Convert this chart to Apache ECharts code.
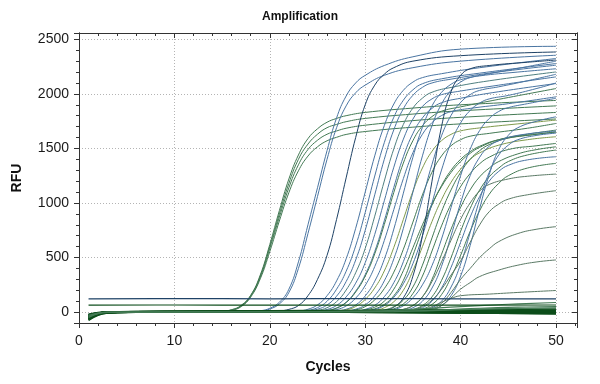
<!DOCTYPE html>
<html><head><meta charset="utf-8">
<script src="https://cdn.jsdelivr.net/npm/echarts@6/dist/echarts.min.js"></script>
<style>html,body{margin:0;padding:0;background:#fff}#c{width:600px;height:384px}</style>
</head><body><div id="c"></div>
<script>
// ---- Data: RFU, as [cycle, RFU] pairs ----
const xTicks = [0, 10, 20, 30, 40, 50];
const yTicks = [0, 500, 1000, 1500, 2000, 2500];

const earlyCurves = [
  [[1,-50],[2,-15],[3,-3],[10,2],[14,4],[15,8],[16,22],[17,62],[18,155],[19,340],[20,620],[21,930],[22,1220],[23,1440],[24,1590],[25,1680],[26,1740],[27,1775],[28,1800],[30,1830],[35,1870],[40,1900],[50,1940]],
  [[1,-40],[2,-12],[3,-2],[10,3],[14,5],[15,8],[16,20],[17,57],[18,150],[19,330],[20,600],[21,900],[22,1180],[23,1400],[24,1540],[25,1630],[26,1690],[27,1720],[28,1745],[30,1775],[35,1815],[40,1845],[50,1890]],
  [[1,-55],[2,-18],[3,-4],[10,1],[14,3],[15,6],[16,18],[17,55],[18,145],[19,320],[20,585],[21,870],[22,1140],[23,1350],[24,1490],[25,1575],[26,1630],[27,1660],[28,1685],[30,1713],[35,1755],[40,1785],[50,1830]],
  [[1,-35],[2,-10],[3,-2],[10,2],[14,3],[15,5],[16,16],[17,50],[18,138],[19,305],[20,555],[21,835],[22,1095],[23,1295],[24,1430],[25,1515],[26,1570],[27,1602],[28,1628],[30,1655],[35,1695],[40,1725],[50,1770]],
  [[1,-45],[2,-14],[3,-3],[12,2],[17,4],[18,6],[19,12],[20,35],[21,90],[22,210],[23,460],[24,800],[25,1140],[26,1480],[27,1780],[28,1980],[29,2100],[30,2170],[32,2260],[35,2340],[40,2410],[50,2436]],
  [[1,-30],[2,-9],[3,-1],[12,3],[17,4],[18,6],[19,9],[20,28],[21,75],[22,180],[23,400],[24,720],[25,1060],[26,1400],[27,1690],[28,1890],[29,2010],[30,2080],[32,2170],[35,2240],[40,2300],[50,2354]],
  [[1,-40],[2,-12],[3,-2],[15,3],[20,5],[21,10],[22,25],[23,60],[24,150],[25,300],[26,520],[27,850],[28,1230],[29,1600],[30,1900],[31,2080],[32,2180],[33,2240],[35,2300],[40,2350],[50,2384]]
];
const earlyDye = ['HEX','HEX','HEX','HEX','FAM','FAM','CY5'];

const midCurves = [
  [[1,-50],[2,-15],[3,-3],[15,2],[22,4],[23,9],[24,26],[25,66],[26,150],[27,286],[28,488],[29,768],[30,1100],[31,1432],[32,1709],[33,1907],[34,2033],[35,2108],[36,2149],[38,2185],[42,2240],[50,2324]],
  [[1,-25],[2,-8],[3,-1],[15,3],[23,5],[24,15],[25,41],[26,99],[27,210],[28,374],[29,607],[30,913],[31,1247],[32,1553],[33,1786],[34,1942],[35,2037],[36,2093],[38,2138],[42,2190],[50,2278]],
  [[1,-60],[2,-20],[3,-5],[15,1],[23,3],[24,9],[25,26],[26,65],[27,146],[28,280],[29,477],[30,750],[31,1075],[32,1400],[33,1671],[34,1864],[35,1987],[36,2060],[37,2100],[39,2135],[43,2190],[50,2263]],
  [[1,-35],[2,-10],[3,-2],[15,2],[24,4],[25,15],[26,40],[27,96],[28,202],[29,360],[30,584],[31,879],[32,1201],[33,1496],[34,1720],[35,1870],[36,1961],[37,2015],[39,2059],[43,2120],[50,2201]],
  [[1,-45],[2,-13],[3,-3],[15,2],[24,3],[25,8],[26,24],[27,61],[28,139],[29,265],[30,453],[31,712],[32,1020],[33,1328],[34,1585],[35,1769],[36,1885],[37,1954],[38,1993],[40,2026],[44,2080],[50,2156]],
  [[1,-30],[2,-9],[3,-2],[15,3],[25,5],[26,14],[27,38],[28,91],[29,192],[30,343],[31,556],[32,837],[33,1143],[34,1424],[35,1637],[36,1780],[37,1867],[38,1919],[40,1960],[44,2020],[50,2095]],
  [[1,-55],[2,-17],[3,-4],[15,1],[25,4],[26,13],[27,36],[28,87],[29,184],[30,329],[31,534],[32,803],[33,1097],[34,1366],[35,1571],[36,1708],[37,1792],[38,1841],[40,1881],[44,1950],[50,2049]],
  [[1,-40],[2,-12],[3,-2],[15,2],[26,8],[27,23],[28,56],[29,128],[30,244],[31,417],[32,656],[33,940],[34,1224],[35,1461],[36,1630],[37,1737],[38,1801],[39,1837],[41,1867],[45,1910],[50,1973]],
  [[1,-20],[2,-6],[3,0],[15,3],[26,4],[27,9],[28,26],[29,65],[30,148],[31,283],[32,484],[33,761],[34,1090],[35,1419],[36,1694],[37,1890],[38,2014],[39,2088],[40,2130],[42,2165],[46,2200],[50,2230]],
  [[1,-45],[2,-14],[3,-3],[15,2],[26,4],[27,7],[28,20],[29,51],[30,116],[31,221],[32,377],[33,593],[34,850],[35,1107],[36,1321],[37,1474],[38,1571],[39,1629],[40,1661],[42,1688],[46,1725],[50,1760]]
];
const midDye = ['FAM','FAM','FAM','VIC','FAM','FAM','HEX','FAM','FAM','TXR'];

const lateCurves = [
  [[1,-35],[2,-10],[3,-2],[15,2],[27,4],[28,9],[29,26],[30,66],[31,150],[32,286],[33,488],[34,768],[35,1100],[36,1432],[37,1709],[38,1907],[39,2033],[40,2108],[41,2149],[43,2185],[47,2250],[50,2300]],
  [[1,-50],[2,-15],[3,-3],[15,1],[27,3],[28,7],[29,20],[30,50],[31,112],[32,215],[33,366],[34,576],[35,825],[36,1074],[37,1282],[38,1431],[39,1525],[40,1580],[41,1612],[43,1638],[47,1685],[50,1729]],
  [[1,-40],[2,-12],[3,-2],[15,2],[28,4],[29,8],[30,25],[31,62],[32,141],[33,270],[34,462],[35,726],[36,1040],[37,1354],[38,1616],[39,1803],[40,1922],[41,1993],[42,2032],[44,2065],[47,2120],[50,2180]],
  [[1,-60],[2,-18],[3,-4],[15,1],[28,5],[29,10],[30,20],[31,45],[32,100],[33,210],[34,380],[35,590],[36,800],[37,990],[38,1150],[39,1280],[40,1380],[41,1455],[42,1510],[44,1580],[47,1630],[50,1668]],
  [[1,-30],[2,-9],[3,-1],[15,2],[29,5],[30,12],[31,30],[32,70],[33,150],[34,290],[35,520],[36,760],[37,980],[38,1160],[39,1300],[40,1400],[41,1470],[42,1520],[44,1580],[47,1620],[50,1652]],
  [[1,-45],[2,-13],[3,-3],[15,2],[29,4],[30,8],[31,24],[32,60],[33,136],[34,260],[35,444],[36,698],[37,1000],[38,1302],[39,1554],[40,1734],[41,1848],[42,1916],[43,1954],[45,1986],[48,2050],[50,2100]],
  [[1,-25],[2,-7],[3,-1],[15,3],[30,5],[31,15],[32,40],[33,95],[34,200],[35,380],[36,600],[37,830],[38,1030],[39,1190],[40,1310],[41,1400],[42,1460],[44,1530],[47,1580],[50,1607]],
  [[1,-50],[2,-15],[3,-3],[15,1],[31,5],[32,15],[33,45],[34,130],[35,330],[36,700],[37,1200],[38,1700],[39,2020],[40,2170],[41,2230],[43,2260],[47,2290],[50,2310]],
  [[1,-40],[2,-12],[3,-2],[15,1],[30,6],[31,10],[32,20],[33,50],[34,110],[35,230],[36,430],[37,680],[38,920],[39,1120],[40,1280],[41,1400],[42,1480],[43,1535],[45,1595],[48,1630],[50,1650]],
  [[1,-55],[2,-16],[3,-3],[15,2],[31,5],[32,12],[33,30],[34,75],[35,170],[36,330],[37,560],[38,790],[39,990],[40,1150],[41,1270],[42,1360],[43,1420],[45,1490],[48,1525],[50,1546]],
  [[1,-35],[2,-10],[3,-2],[15,2],[31,4],[32,8],[33,23],[34,58],[35,131],[36,250],[37,426],[38,670],[39,960],[40,1250],[41,1492],[42,1665],[43,1774],[44,1839],[45,1874],[47,1910],[50,1960]]
];
const lateDye = ['FAM','HEX','FAM','HEX','HEX','FAM','TXR','CY5','HEX','HEX','FAM'];

const lastCurves = [
  [[1,-45],[2,-13],[3,-2],[15,1],[32,5],[33,10],[34,25],[35,60],[36,140],[37,300],[38,530],[39,760],[40,960],[41,1120],[42,1240],[43,1320],[44,1380],[46,1450],[48,1490],[50,1515]],
  [[1,-30],[2,-9],[3,-1],[15,2],[32,3],[33,5],[34,15],[35,40],[36,100],[37,220],[38,420],[39,700],[40,1000],[41,1250],[42,1420],[43,1520],[44,1570],[46,1620],[50,1660]],
  [[1,-50],[2,-15],[3,-3],[15,1],[33,5],[34,10],[35,25],[36,60],[37,140],[38,290],[39,500],[40,740],[41,950],[42,1120],[43,1240],[44,1320],[45,1380],[47,1440],[50,1485]],
  [[1,-40],[2,-12],[3,-2],[15,2],[33,3],[34,5],[35,15],[36,40],[37,100],[38,220],[39,410],[40,640],[41,870],[42,1060],[43,1200],[44,1290],[45,1345],[47,1395],[50,1424]],
  [[1,-35],[2,-10],[3,-2],[15,2],[34,5],[35,10],[36,28],[37,70],[38,160],[39,320],[40,520],[41,740],[42,930],[43,1080],[44,1180],[45,1250],[47,1320],[50,1363]],
  [[1,-55],[2,-16],[3,-3],[15,1],[32,5],[33,10],[34,25],[35,60],[36,140],[37,280],[38,460],[39,660],[40,850],[41,1000],[42,1110],[43,1170],[45,1220],[47,1245],[50,1265]],
  [[1,-25],[2,-7],[3,-1],[15,2],[34,3],[35,5],[36,15],[37,40],[38,100],[39,230],[40,440],[41,730],[42,1030],[43,1280],[44,1440],[45,1530],[46,1580],[48,1620],[50,1640]],
  [[1,-45],[2,-13],[3,-2],[15,2],[35,4],[36,8],[37,22],[38,60],[39,150],[40,330],[41,610],[42,950],[43,1260],[44,1490],[45,1620],[46,1690],[48,1750],[50,1790]],
  [[1,-40],[2,-12],[3,-2],[15,1],[33,4],[34,8],[35,20],[36,50],[37,110],[38,210],[39,340],[40,470],[41,640],[42,800],[43,920],[44,990],[45,1035],[47,1075],[50,1113]],
  [[1,-30],[2,-9],[3,-1],[15,1],[35,4],[36,10],[37,30],[38,80],[39,180],[40,300],[41,400],[42,500],[43,580],[44,646],[46,720],[48,760],[50,783]],
  [[1,-45],[2,-14],[3,-3],[15,1],[35,3],[36,5],[37,20],[38,60],[39,130],[40,210],[41,270],[42,326],[44,385],[46,430],[48,460],[50,478]],
  [[1,-35],[2,-10],[3,-2],[15,2],[34,4],[35,5],[36,20],[37,50],[38,90],[39,125],[40,150],[43,165],[46,180],[50,198]]
];
const lastDye = ['HEX','FAM','HEX','FAM','HEX','ROX','FAM','FAM','ROX','ROX','ROX','ROX'];

const lowCurves = [
  [[1,-40],[2,-12],[3,-2],[20,3],[30,8],[35,25],[40,50],[45,72],[50,88]],
  [[1,-30],[2,-9],[3,-1],[20,2],[33,5],[38,20],[42,35],[46,45],[50,51]],
  [[1,-50],[2,-15],[3,-3],[25,4],[35,10],[40,22],[45,32],[50,38]],
  [[1,122],[10,123],[20,122],[30,123],[40,122],[50,122]],
  [[1,64],[10,65],[20,64],[30,65],[40,64],[50,65]]
];
const lowDye = ['HEX','HEX','HEX','CY5','NTC'];

const flatCurves = [
  [[1,-70],[2,-25],[3,-8],[6,0],[12,4],[20,6],[28,3],[35,0],[42,-4],[50,-8]],
  [[1,-60],[2,-20],[3,-5],[6,2],[12,5],[20,8],[28,6],[35,4],[42,2],[50,0]],
  [[1,-50],[2,-15],[3,-3],[6,3],[12,6],[20,5],[28,2],[35,-2],[42,-6],[50,-12]],
  [[1,-40],[2,-12],[3,-2],[6,2],[12,3],[20,4],[28,4],[35,6],[42,8],[50,10]],
  [[1,-30],[2,-8],[3,0],[6,4],[12,7],[20,10],[28,12],[35,14],[42,16],[50,18]],
  [[1,-65],[2,-22],[3,-6],[6,-1],[12,2],[20,3],[28,0],[35,-3],[42,-8],[50,-14]],
  [[1,-20],[2,-5],[3,1],[6,3],[12,4],[20,2],[28,1],[35,3],[42,5],[50,6]],
  [[1,-55],[2,-18],[3,-4],[6,1],[12,5],[20,9],[28,10],[35,8],[42,4],[50,2]],
  [[1,-45],[2,-14],[3,-3],[6,0],[12,1],[20,0],[28,-2],[35,-4],[42,-6],[50,-9]],
  [[1,-35],[2,-10],[3,-1],[6,5],[12,8],[20,12],[28,15],[35,20],[42,24],[50,28]],
  [[1,-75],[2,-28],[3,-9],[6,-2],[12,1],[20,2],[28,1],[35,-1],[42,-3],[50,-5]],
  [[1,-25],[2,-7],[3,0],[6,2],[12,3],[20,5],[28,7],[35,9],[42,11],[50,12]],
  [[1,-50],[2,-16],[3,-4],[6,1],[12,3],[20,2],[28,-1],[35,-5],[42,-10],[50,-15]],
  [[1,-40],[2,-12],[3,-2],[6,3],[12,5],[20,6],[28,5],[35,5],[42,4],[50,3]]
];

// ---- Styles ----
const dyeColor = {FAM:'#4a75a2', VIC:'#4f7f80', HEX:'#437a54', TXR:'#7f9a4c', ROX:'#5b7a66', CY5:'#1e4266', NTC:'#0c4d1a'};
const series = [];
function addGroup(curves, dyes, width) {
  curves.forEach((pts, i) => series.push({
    type: 'line', data: pts, smooth: 0.45, symbol: 'none',
    silent: true, animation: false, clip: true,
    lineStyle: {color: dyeColor[dyes[i]], width: width}
  }));
}
addGroup(earlyCurves, earlyDye, 1);
addGroup(midCurves, midDye, 1);
addGroup(lateCurves, lateDye, 1);
addGroup(lastCurves, lastDye, 1);
addGroup(flatCurves, flatCurves.map(() => 'NTC'), 1.6);
addGroup(lowCurves, lowDye, 1.2);

const axisColor = '#333';
const font = 'Liberation Sans, Arial, sans-serif';
const XMIN = 0, XMAX = 52.2, YMIN = -100, YMAX = 2558;
function xAx(pos, interval, len, inside, main) {
  return {type:'value', position:pos, min:XMIN, max:XMAX, interval:interval,
    axisLine:{show:true, onZero:false, lineStyle:{color:axisColor, width:1}},
    axisTick:{show:true, inside:inside, length:len, lineStyle:{color:axisColor}},
    axisLabel: main ? {show:true, margin:11, fontSize:14, color:'#1a1a1a', fontFamily:font,
      formatter: v => xTicks.includes(v) ? String(v) : ''} : {show:false},
    name: main ? 'Cycles' : '', nameLocation:'middle', nameGap:37,
    nameTextStyle:{fontSize:14, fontWeight:'bold', color:'#111', fontFamily:font},
    splitLine: main ? {show:true, lineStyle:{color:'#b4b4b4', type:[1,2], width:1}} : {show:false}};
}
function yAx(pos, interval, len, inside, main) {
  const a = {type:'value', position:pos, min:YMIN, max:YMAX,
    axisLine:{show:true, onZero:false, lineStyle:{color:axisColor, width:1}},
    axisTick:{show:true, inside:inside, length:len, lineStyle:{color:axisColor}},
    axisLabel: main ? {show:true, margin:10, fontSize:14, color:'#1a1a1a', fontFamily:font,
      formatter: v => yTicks.includes(v) ? String(v) : ''} : {show:false},
    name: main ? 'RFU' : '', nameLocation:'middle', nameGap:55,
    nameTextStyle:{fontSize:14, fontWeight:'bold', color:'#111', fontFamily:font},
    splitLine: main ? {show:true, lineStyle:{color:'#b4b4b4', type:[1,2], width:1}} : {show:false}};
  if (interval) a.interval = interval; else a.splitNumber = 5;
  return a;
}

const chart = echarts.init(document.getElementById('c'), null, {renderer:'canvas'});
chart.setOption({
  animation: false,
  backgroundColor: '#fff',
  title: {text:'Amplification', left:'center', top:11, padding:0,
    textStyle:{fontSize:12, fontWeight:'bold', color:'#111', fontFamily:font}},
  grid: {left:79, right:23, top:33, bottom:61, containLabel:false, outerBoundsMode:'none'},
  xAxis: [xAx('bottom', 10, 5, false, true), xAx('bottom', 2, 3, false, false),
          xAx('top', 2, 3, true, false), xAx('top', 10, 5, true, false)],
  yAxis: [yAx('left', null, 5, false, true), yAx('left', 100, 3, false, false),
          yAx('right', 100, 3, true, false), yAx('right', null, 5, true, false)],
  series: series
});
</script>
</body></html>
